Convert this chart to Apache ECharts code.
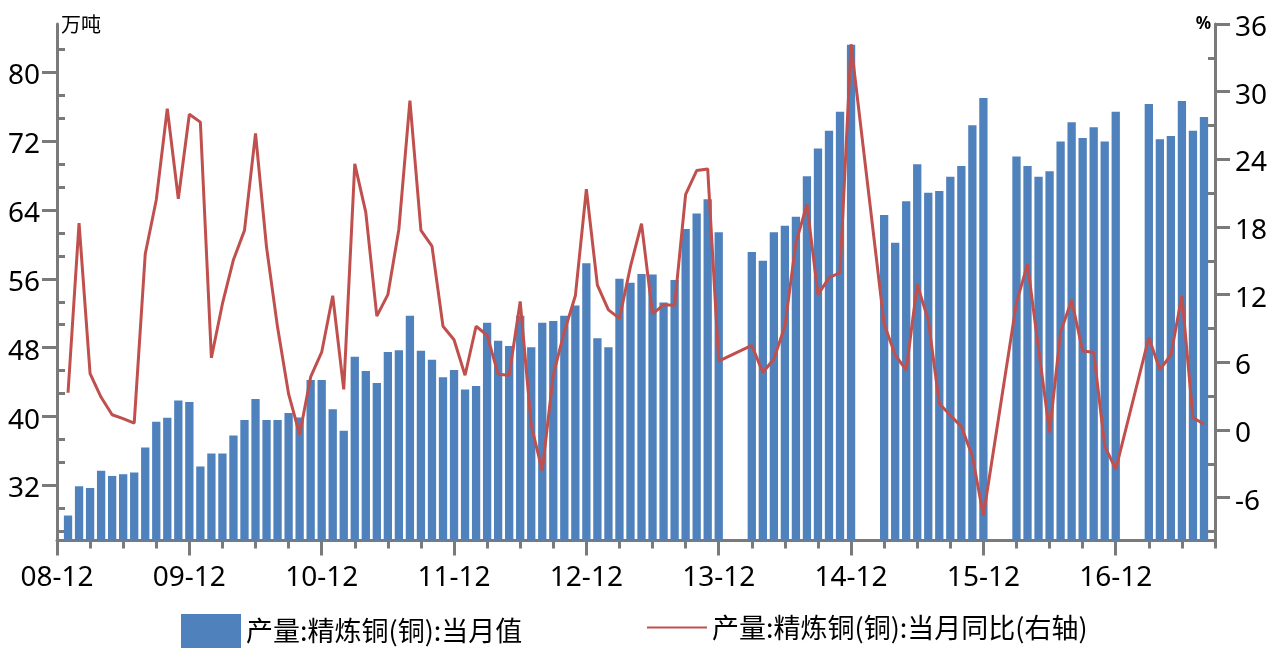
<!DOCTYPE html>
<html><head><meta charset="utf-8">
<script src="https://cdn.jsdelivr.net/npm/echarts@6/dist/echarts.min.js"></script>
<style>html,body{margin:0;padding:0;background:#fff}#c{width:1270px;height:648px}</style>
</head><body><div id="c"></div>
<script>
// ---- data ----
const months = [
 '2009-01','2009-02','2009-03','2009-04','2009-05','2009-06','2009-07','2009-08','2009-09','2009-10','2009-11','2009-12',
 '2010-01','2010-02','2010-03','2010-04','2010-05','2010-06','2010-07','2010-08','2010-09','2010-10','2010-11','2010-12',
 '2011-01','2011-02','2011-03','2011-04','2011-05','2011-06','2011-07','2011-08','2011-09','2011-10','2011-11','2011-12',
 '2012-01','2012-02','2012-03','2012-04','2012-05','2012-06','2012-07','2012-08','2012-09','2012-10','2012-11','2012-12',
 '2013-01','2013-02','2013-03','2013-04','2013-05','2013-06','2013-07','2013-08','2013-09','2013-10','2013-11','2013-12',
 '2014-01','2014-02','2014-03','2014-04','2014-05','2014-06','2014-07','2014-08','2014-09','2014-10','2014-11','2014-12',
 '2015-01','2015-02','2015-03','2015-04','2015-05','2015-06','2015-07','2015-08','2015-09','2015-10','2015-11','2015-12',
 '2016-01','2016-02','2016-03','2016-04','2016-05','2016-06','2016-07','2016-08','2016-09','2016-10','2016-11','2016-12',
 '2017-01','2017-02','2017-03','2017-04','2017-05','2017-06','2017-07','2017-08'
];
// 产量:精炼铜(铜):当月值 (万吨)
const output = [
 28.5,31.9,31.7,33.7,33.1,33.3,33.5,36.4,39.4,39.85,41.85,41.7,
 34.2,35.7,35.7,37.8,39.6,42.05,39.6,39.6,40.4,39.9,44.25,44.25,
 40.85,38.35,46.95,45.3,43.9,47.5,47.7,51.7,47.65,46.6,44.55,45.4,
 43.15,43.55,50.9,48.8,48.2,51.7,48.05,50.9,51.1,51.7,52.9,57.8,
 49.1,48.05,56.0,55.55,56.55,56.5,53.25,55.85,61.8,63.6,65.25,61.4,
 null,null,59.1,58.1,61.4,62.15,63.2,67.9,71.15,73.2,75.4,83.2,
 null,null,63.4,60.2,65.0,69.3,66.0,66.2,67.85,69.1,73.85,77.0,
 null,null,70.2,69.1,67.85,68.5,71.95,74.2,72.35,73.6,71.95,75.4,
 null,null,76.3,72.2,72.6,76.65,73.2,74.8
];
// 产量:精炼铜(铜):当月同比 (%)
const yoy = [
 3.3,18.35,5.0,2.9,1.35,1.0,0.6,15.6,20.4,28.5,20.5,28.0,
 27.3,6.4,11.2,15.1,17.7,26.3,16.2,9.1,3.2,-0.4,4.7,6.9,
 11.9,3.6,23.6,19.3,10.1,12.0,17.8,29.2,17.7,16.3,9.2,8.0,
 4.85,9.2,8.4,4.95,4.85,11.4,0.4,-3.6,4.9,8.7,11.9,21.35,
 12.85,10.65,9.9,14.5,18.3,10.3,11.1,11.05,20.9,23.0,23.15,6.1,
 null,null,7.5,5.1,6.3,9.2,16.6,20.0,12.0,13.5,13.95,34.2,
 null,null,9.4,6.65,5.3,12.9,9.75,2.35,1.3,0.3,-2.3,-7.6,
 null,null,11.3,14.7,7.2,-0.2,8.7,11.5,7.0,6.9,-1.4,-3.5,
 null,null,8.2,5.35,6.65,11.9,1.1,0.5
];
const xTickLabels = ['08-12','09-12','10-12','11-12','12-12','13-12','14-12','15-12','16-12'];
const leftTickLabels = [32,40,48,56,64,72,80];
const rightTickLabels = [-6,0,6,12,18,24,30,36];
const seriesNames = ['产量:精炼铜(铜):当月值','产量:精炼铜(铜):当月同比(右轴)'];

// ---- helpers (month index: 2008-12 = 0) ----
function monthIndex(y, m){ return (y - 2008) * 12 + (m - 12); }
function idxOf(s){ const p = s.split('-').map(Number); return monthIndex(p[0], p[1]); }
function idxOfShort(s){ const p = s.split('-').map(Number); return monthIndex(2000 + p[0], p[1]); }

const X_MIN = 0, X_MAX = idxOf('2017-09');
const majorX = xTickLabels.map(idxOfShort);
const minorX = [];
for (let v = X_MIN + 3; v <= X_MAX; v += 3) if (majorX.indexOf(v) < 0) minorX.push(v);
const labelByIdx = {};
xTickLabels.forEach(l => { labelByIdx[idxOfShort(l)] = l; });

const minorLeft = [];
for (let k = 0; k < 30; k++) { const v = 24 + k * 8 / 3; if (v > 25.7 && v < 85 && Math.abs(v - Math.round(v / 8) * 8) > 0.1) minorLeft.push(+v.toFixed(3)); }
const minorRight = [];
for (let v = -9; v <= 33; v += 6) minorRight.push(v);

const barData = months.map((m, i) => [idxOf(m), output[i]]).filter(d => d[1] !== null);
const lineData = months.map((m, i) => [idxOf(m), yoy[i]]).filter(d => d[1] !== null);

const AX = '#7a7a7a';
const FONT = '"Noto Sans", "Noto Sans CJK SC", sans-serif';
const LEFT_MIN = 25.6, LEFT_MAX = 85.6, RIGHT_MIN = -9.8, RIGHT_MAX = 36;

const lineBase = { show: true, onZero: false, lineStyle: { color: AX, width: 3 } };
const noLine = { show: false, onZero: false };

const chart = echarts.init(document.getElementById('c'), null, { renderer: 'canvas' });
chart.setOption({
  animation: false,
  backgroundColor: '#fff',
  textStyle: { fontFamily: FONT },
  grid: { left: 57, right: 55, top: 24, bottom: 107.5, containLabel: false, outerBoundsMode: 'none' },
  legend: [
    { data: [{ name: seriesNames[0], icon: 'rect' }], left: 181, top: 614, padding: 0,
      itemWidth: 60, itemHeight: 34, itemGap: 5,
      textStyle: { fontSize: 27, color: '#000', fontFamily: '"Noto Sans CJK SC", sans-serif' } },
    { data: [{ name: seriesNames[1], itemStyle: { color: 'rgba(0,0,0,0)', borderWidth: 0, opacity: 0 } }],
      left: 646, top: 614, padding: 0,
      itemWidth: 60, itemHeight: 34, itemGap: 5,
      textStyle: { fontSize: 27, color: '#000', fontFamily: '"Noto Sans CJK SC", sans-serif' } }
  ],
  xAxis: [
    { type: 'value', min: X_MIN, max: X_MAX, position: 'bottom',
      axisLine: lineBase,
      axisTick: { show: true, customValues: majorX, length: 15, lineStyle: { color: AX, width: 3 } },
      axisLabel: { show: true, customValues: majorX, margin: 24, fontSize: 28, color: '#000',
        formatter: v => labelByIdx[v] || '' },
      splitLine: { show: false } },
    { type: 'value', min: X_MIN, max: X_MAX, position: 'bottom',
      axisLine: noLine,
      axisTick: { show: true, customValues: minorX, length: 8, lineStyle: { color: AX, width: 3 } },
      axisLabel: { show: false }, splitLine: { show: false } }
  ],
  yAxis: [
    { type: 'value', min: LEFT_MIN, max: LEFT_MAX, position: 'left',
      name: '万吨', nameLocation: 'end', nameGap: 0,
      nameTextStyle: { fontSize: 20, color: '#000', align: 'left', verticalAlign: 'middle', padding: [0, 0, 0, 4], fontFamily: '"Noto Sans CJK SC", sans-serif' },
      axisLine: lineBase,
      axisTick: { show: true, customValues: leftTickLabels, length: 15, lineStyle: { color: AX, width: 3 } },
      axisLabel: { show: true, customValues: leftTickLabels, margin: 17, fontSize: 28, color: '#000', verticalAlign: 'top', lineHeight: 8 },
      splitLine: { show: false } },
    { type: 'value', min: LEFT_MIN, max: LEFT_MAX, position: 'left',
      axisLine: noLine,
      axisTick: { show: true, inside: true, customValues: minorLeft, length: 8, lineStyle: { color: AX, width: 3 } },
      axisLabel: { show: false }, splitLine: { show: false } },
    { type: 'value', min: RIGHT_MIN, max: RIGHT_MAX, position: 'right',
      name: '%', nameLocation: 'end', nameGap: 0,
      nameTextStyle: { fontSize: 17, fontWeight: 'bold', color: '#000', align: 'right', verticalAlign: 'middle', padding: [0, 4, 0, 0] },
      axisLine: lineBase,
      axisTick: { show: true, customValues: rightTickLabels, length: 15, lineStyle: { color: AX, width: 3 } },
      axisLabel: { show: true, customValues: rightTickLabels, margin: 20, fontSize: 28, color: '#000', verticalAlign: 'top', lineHeight: 8 },
      splitLine: { show: false } },
    { type: 'value', min: RIGHT_MIN, max: RIGHT_MAX, position: 'right',
      axisLine: noLine,
      axisTick: { show: true, inside: true, customValues: minorRight, length: 7, lineStyle: { color: AX, width: 3 } },
      axisLabel: { show: false }, splitLine: { show: false } }
  ],
  series: [
    { name: seriesNames[0], type: 'bar', xAxisIndex: 0, yAxisIndex: 0, data: barData,
      barWidth: 8.3, itemStyle: { color: '#4f81bd' }, z: 2 },
    { name: seriesNames[1], type: 'line', xAxisIndex: 0, yAxisIndex: 2, data: lineData,
      symbol: 'none', connectNulls: true, lineStyle: { color: '#c0504d', width: 3 },
      itemStyle: { color: '#c0504d' }, z: 3 }
  ]
});
</script></body></html>
